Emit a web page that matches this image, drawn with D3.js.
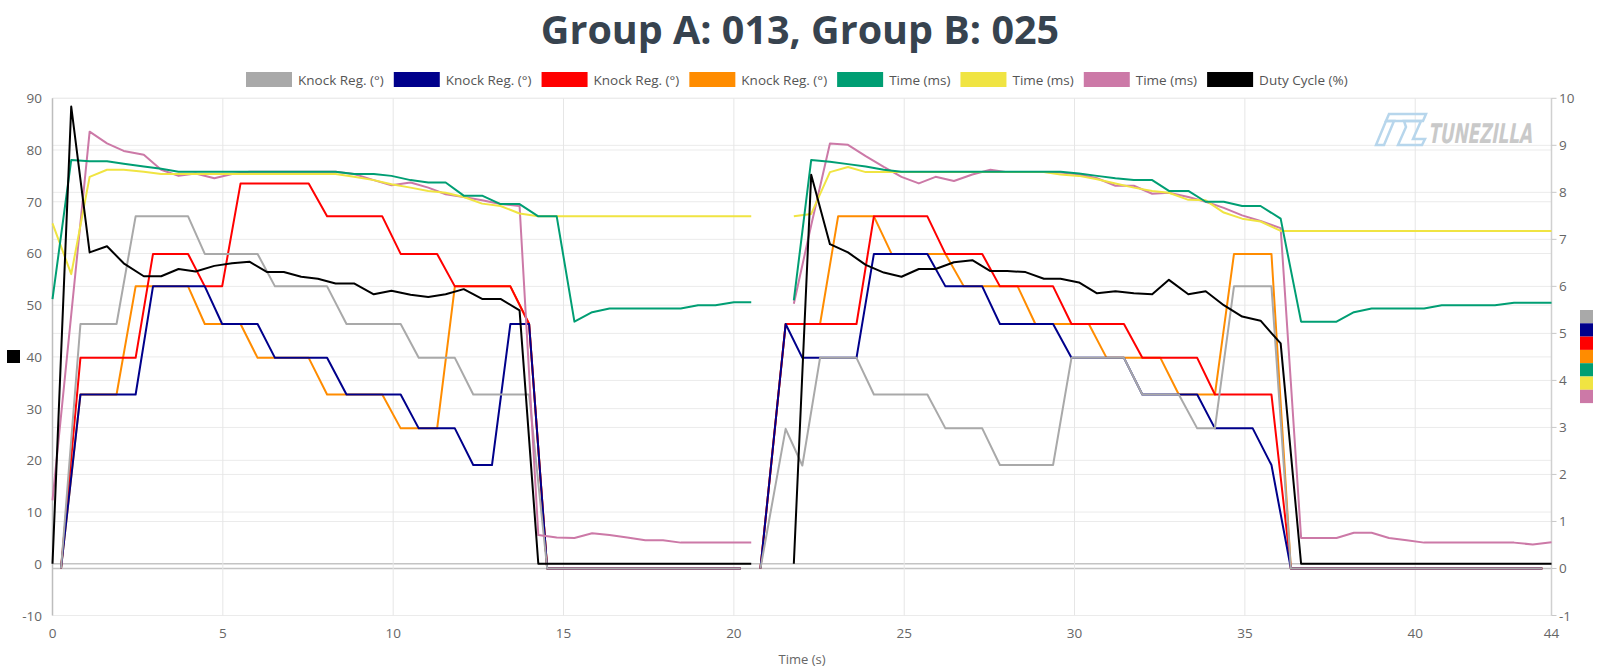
<!DOCTYPE html>
<html>
<head>
<meta charset="utf-8">
<script src="https://cdn.jsdelivr.net/npm/d3@7.9.0/dist/d3.min.js"></script>
<style>
  body { margin: 0; background: #fff; }
  svg { display: block; font-family: "Open Sans", sans-serif; }
</style>
</head>
<body>
<svg id="chart" width="1600" height="667"></svg>
<script>
// sample times (s): log A, gap row, log B
const tMain = [
  0, 0.55, 1.09, 1.60, 2.09, 2.68, 3.19, 3.70, 4.20, 4.75, 5.27, 5.78, 6.30, 6.79, 7.30, 7.79, 8.31, 8.85, 9.43, 9.95,
  10.51, 11.03, 11.54, 12.07, 12.61, 13.15, 13.71, 14.26, 14.80, 15.32, 15.84, 16.35, 16.87, 17.40, 17.92, 18.44, 18.95, 19.46, 20.00, 20.51,
  21.10,
  21.76, 22.27, 22.82, 23.35, 23.87, 24.40, 24.92, 25.43, 25.92, 26.46, 27.00, 27.53, 28.02, 28.56, 29.10, 29.59, 30.13, 30.66, 31.20, 31.74,
  32.28, 32.77, 33.34, 33.85, 34.38, 34.92, 35.46, 36.05, 36.65, 37.17, 37.69, 38.20, 38.72, 39.23, 39.75, 40.26, 40.78, 41.30, 41.82, 42.34,
  42.90, 43.45, 44.00
];
const tKnock = [
  0.25, 0.82, 1.35, 1.88, 2.44, 2.95, 3.46, 3.98, 4.47, 4.98, 5.52, 6.02, 6.53, 7.04, 7.52, 8.06, 8.63, 9.16, 9.68, 10.22,
  10.75, 11.29, 11.81, 12.35, 12.90, 13.44, 13.99, 14.52, 15.04, 15.56, 16.07, 16.59, 17.10, 17.62, 18.14, 18.65, 19.17, 19.68, 20.20,
  20.50,
  20.78, 21.52, 22.01, 22.53, 23.06, 23.60, 24.11, 24.63, 25.15, 25.68, 26.21, 26.75, 27.29, 27.81, 28.33, 28.85, 29.37, 29.91, 30.42, 30.94,
  31.45, 31.99, 32.52, 33.06, 33.60, 34.12, 34.68, 35.23, 35.78, 36.35, 36.88, 37.40, 37.93, 38.46, 38.98, 39.51, 40.04, 40.57, 41.09, 41.62,
  42.15, 42.68, 43.20, 43.73
];

// knock regulation (deg), right axis
const knockGray = [
  0, 5.20, 5.20, 5.20, 7.49, 7.49, 7.49, 7.49, 6.69, 6.69, 6.69, 6.69, 6.00, 6.00, 6.00, 6.00, 5.20, 5.20, 5.20, 5.20,
  4.48, 4.48, 4.48, 3.70, 3.70, 3.70, 3.70, 0, 0, 0, 0, 0, 0, 0, 0, 0, 0, 0, 0,
  null,
  0, 2.97, 2.19, 4.48, 4.48, 4.48, 3.70, 3.70, 3.70, 3.70, 2.98, 2.98, 2.98, 2.20, 2.20, 2.20, 2.20, 4.48, 4.48, 4.48,
  4.48, 3.70, 3.70, 3.70, 2.98, 2.98, 6.00, 6.00, 6.00, 0, 0, 0, 0, 0, 0, 0, 0, 0, 0, 0,
  0, 0, 0, 0
];
const knockBlue = [
  0, 3.70, 3.70, 3.70, 3.70, 6.00, 6.00, 6.00, 6.00, 5.20, 5.20, 5.20, 4.48, 4.48, 4.48, 4.48, 3.70, 3.70, 3.70, 3.70,
  2.98, 2.98, 2.98, 2.20, 2.20, 5.20, 5.20, 0, 0, 0, 0, 0, 0, 0, 0, 0, 0, 0, 0,
  null,
  0, 5.20, 4.48, 4.48, 4.48, 4.48, 6.69, 6.69, 6.69, 6.69, 6.00, 6.00, 6.00, 5.20, 5.20, 5.20, 5.20, 4.48, 4.48, 4.48,
  4.48, 3.70, 3.70, 3.70, 3.70, 2.98, 2.98, 2.98, 2.20, 0, 0, 0, 0, 0, 0, 0, 0, 0, 0, 0,
  0, 0, 0, 0
];
const knockRed = [
  0, 4.48, 4.48, 4.48, 4.48, 6.69, 6.69, 6.69, 6.00, 6.00, 8.19, 8.19, 8.19, 8.19, 8.19, 7.49, 7.49, 7.49, 7.49, 6.69,
  6.69, 6.69, 6.00, 6.00, 6.00, 6.00, 5.20, 0, 0, 0, 0, 0, 0, 0, 0, 0, 0, 0, 0,
  null,
  0, 5.20, 5.20, 5.20, 5.20, 5.20, 7.49, 7.49, 7.49, 7.49, 6.69, 6.69, 6.69, 6.00, 6.00, 6.00, 6.00, 5.20, 5.20, 5.20,
  5.20, 4.48, 4.48, 4.48, 4.48, 3.70, 3.70, 3.70, 3.70, 0, 0, 0, 0, 0, 0, 0, 0, 0, 0, 0,
  0, 0, 0, 0
];
const knockOrange = [
  0, 3.70, 3.70, 3.70, 6.00, 6.00, 6.00, 6.00, 5.20, 5.20, 5.20, 4.48, 4.48, 4.48, 4.48, 3.70, 3.70, 3.70, 3.70, 2.98,
  2.98, 2.98, 6.00, 6.00, 6.00, 6.00, 5.20, 0, 0, 0, 0, 0, 0, 0, 0, 0, 0, 0, 0,
  null,
  0, 5.20, 5.20, 5.20, 7.49, 7.49, 7.49, 6.69, 6.69, 6.69, 6.69, 6.00, 6.00, 6.00, 6.00, 5.20, 5.20, 5.20, 5.20, 4.48,
  4.48, 4.48, 4.48, 3.70, 3.70, 3.70, 6.69, 6.69, 6.69, 0, 0, 0, 0, 0, 0, 0, 0, 0, 0, 0,
  0, 0, 0, 0
];

// injector times (ms), right axis
const timeGreen = [
  5.73, 8.69, 8.66, 8.66, 8.61, 8.55, 8.50, 8.44, 8.44, 8.44, 8.44, 8.44, 8.44, 8.44, 8.44, 8.44, 8.44, 8.39, 8.39, 8.35,
  8.26, 8.21, 8.21, 7.93, 7.93, 7.75, 7.75, 7.49, 7.49, 5.25, 5.45, 5.53, 5.53, 5.53, 5.53, 5.53, 5.60, 5.60, 5.66, 5.66,
  null,
  5.70, 8.69, 8.65, 8.60, 8.55, 8.48, 8.44, 8.44, 8.44, 8.44, 8.44, 8.44, 8.44, 8.44, 8.44, 8.44, 8.40, 8.35, 8.30, 8.26,
  8.26, 8.03, 8.03, 7.80, 7.80, 7.71, 7.71, 7.44, 5.25, 5.25, 5.25, 5.45, 5.53, 5.53, 5.53, 5.53, 5.60, 5.60, 5.60, 5.60,
  5.65, 5.65, 5.65
];
const timeYellow = [
  7.34, 6.26, 8.33, 8.48, 8.48, 8.44, 8.39, 8.39, 8.39, 8.39, 8.39, 8.39, 8.39, 8.39, 8.39, 8.39, 8.39, 8.33, 8.26, 8.17,
  8.10, 8.03, 7.99, 7.90, 7.76, 7.71, 7.55, 7.49, 7.49, 7.49, 7.49, 7.49, 7.49, 7.49, 7.49, 7.49, 7.49, 7.49, 7.49, 7.49,
  null,
  7.49, 7.54, 8.43, 8.54, 8.43, 8.43, 8.43, 8.43, 8.43, 8.43, 8.43, 8.43, 8.43, 8.43, 8.43, 8.38, 8.35, 8.28, 8.19, 8.10,
  8.03, 7.99, 7.84, 7.83, 7.57, 7.44, 7.38, 7.18, 7.18, 7.18, 7.18, 7.18, 7.18, 7.18, 7.18, 7.18, 7.18, 7.18, 7.18, 7.18,
  7.18, 7.18, 7.18
];
const timePink = [
  1.45, 5.40, 9.29, 9.04, 8.88, 8.80, 8.48, 8.35, 8.40, 8.30, 8.39, 8.44, 8.44, 8.44, 8.44, 8.44, 8.44, 8.39, 8.26, 8.15,
  8.21, 8.10, 7.96, 7.90, 7.83, 7.75, 7.71, 0.71, 0.66, 0.65, 0.75, 0.71, 0.66, 0.60, 0.60, 0.55, 0.55, 0.55, 0.55, 0.55,
  null,
  5.63, 7.30, 9.04, 9.01, 8.77, 8.54, 8.33, 8.19, 8.33, 8.24, 8.38, 8.48, 8.43, 8.43, 8.43, 8.42, 8.38, 8.30, 8.14, 8.14,
  7.97, 7.99, 7.90, 7.80, 7.67, 7.51, 7.39, 7.24, 0.65, 0.65, 0.65, 0.76, 0.76, 0.65, 0.60, 0.55, 0.55, 0.55, 0.55, 0.55,
  0.55, 0.51, 0.56
];

// duty cycle (%), left axis
const dutyCycle = [
  0, 88.4, 60.2, 61.4, 58.1, 55.6, 55.6, 57.0, 56.5, 57.6, 58.1, 58.4, 56.4, 56.4, 55.5, 55.1, 54.2, 54.2, 52.1, 52.8,
  52.0, 51.6, 52.1, 53.1, 51.2, 51.2, 49.0, 0, 0, 0, 0, 0, 0, 0, 0, 0, 0, 0, 0, 0,
  null,
  0, 75.2, 61.8, 60.2, 57.8, 56.3, 55.5, 57.0, 57.0, 58.3, 58.7, 56.6, 56.6, 56.4, 55.1, 55.1, 54.4, 52.3, 52.7, 52.3,
  52.1, 54.9, 52.1, 52.7, 50.0, 47.8, 47.0, 42.6, 0, 0, 0, 0, 0, 0, 0, 0, 0, 0, 0, 0,
  0, 0, 0
];

const leftTicks = [-10, 0, 10, 20, 30, 40, 50, 60, 70, 80, 90];
const rightTicks = [-1, 0, 1, 2, 3, 4, 5, 6, 7, 8, 9, 10];
const xTicks = [0, 5, 10, 15, 20, 25, 30, 35, 40, 44];

// legend order; z = drawing order (higher on top)
const series = [
  { name: 'Knock Reg. (°)', color: '#a9a9a9', axis: 'R', t: tKnock, v: knockGray, z: 3 },
  { name: 'Knock Reg. (°)', color: '#00008b', axis: 'R', t: tKnock, v: knockBlue, z: 2 },
  { name: 'Knock Reg. (°)', color: '#ff0000', axis: 'R', t: tKnock, v: knockRed, z: 1 },
  { name: 'Knock Reg. (°)', color: '#ff8c00', axis: 'R', t: tKnock, v: knockOrange, z: 0 },
  { name: 'Time (ms)', color: '#009e73', axis: 'R', t: tMain, v: timeGreen, z: 6 },
  { name: 'Time (ms)', color: '#f0e442', axis: 'R', t: tMain, v: timeYellow, z: 5 },
  { name: 'Time (ms)', color: '#cc79a7', axis: 'R', t: tMain, v: timePink, z: 4 },
  { name: 'Duty Cycle (%)', color: '#000000', axis: 'L', t: tMain, v: dutyCycle, z: 7 }
];

const svg = d3.select('#chart');
const plotL = 52.5, plotR = 1551.5, plotT = 98.3, plotB = 615.5;

const x = d3.scaleLinear().domain([0, 44]).range([plotL, plotR]);
const yL = d3.scaleLinear().domain([-10, 90]).range([plotB, plotT]);
const yR = d3.scaleLinear().domain([-1, 10]).range([plotB, plotT]);

// title
svg.append('text')
  .attr('x', 800).attr('y', 44)
  .attr('text-anchor', 'middle')
  .attr('font-size', 39.5).attr('font-weight', 700)
  .attr('fill', '#37434f')
  .text('Group A: 013, Group B: 025');

// grid
const grid = svg.append('g');
grid.selectAll('.gl').data(leftTicks).join('line')
  .attr('x1', plotL).attr('x2', plotR)
  .attr('y1', d => yL(d)).attr('y2', d => yL(d))
  .attr('stroke', d => d === 0 ? '#c4c4c4' : '#ebebeb')
  .attr('stroke-width', d => d === 0 ? 1.5 : 1);
grid.selectAll('.gr').data(rightTicks).join('line')
  .attr('x1', plotL).attr('x2', plotR)
  .attr('y1', d => yR(d)).attr('y2', d => yR(d))
  .attr('stroke', d => d === 0 ? '#c4c4c4' : '#ebebeb')
  .attr('stroke-width', d => d === 0 ? 1.5 : 1);
grid.selectAll('.gx').data(xTicks.filter(d => d > 0 && d < 44)).join('line')
  .attr('x1', d => x(d)).attr('x2', d => x(d))
  .attr('y1', plotT).attr('y2', plotB)
  .attr('stroke', '#e6e6e6');
grid.append('line').attr('x1', plotL).attr('x2', plotL).attr('y1', plotT).attr('y2', plotB)
  .attr('stroke', '#bdbdbd').attr('stroke-width', 1.5);
grid.append('line').attr('x1', plotR).attr('x2', plotR).attr('y1', plotT).attr('y2', plotB)
  .attr('stroke', '#d0d0d0').attr('stroke-width', 1.5);
grid.selectAll('.tk').data(rightTicks).join('line')
  .attr('x1', plotR).attr('x2', plotR + 5)
  .attr('y1', d => yR(d)).attr('y2', d => yR(d))
  .attr('stroke', '#c8c8c8');

// watermark
const wm = svg.append('g').attr('fill', 'none').attr('stroke', '#b7d6ec').attr('stroke-width', 2.5);
wm.append('path').attr('d', 'M1389,114 L1426,114 L1423,121 L1386,121 Z');
wm.append('path').attr('d', 'M1386,121 L1394,121 L1384,145 L1376,145 Z');
wm.append('path').attr('d', 'M1404,121 L1421,121 L1413,139 L1425,139 L1422,145 L1398,145 L1406,127 Z');
const wmText = svg.append('text')
  .attr('font-family', '"DejaVu Sans Condensed", "Liberation Sans", sans-serif')
  .attr('font-size', 27).attr('font-weight', 700)
  .attr('fill', '#c9c9c9')
  .text('TUNEZILLA');
const wmScale = 104 / wmText.node().getComputedTextLength();
wmText.attr('transform', `translate(1428,143) scale(${wmScale},1) skewX(-14)`);

// lines
const plot = svg.append('g');
series.slice().sort((a, b) => a.z - b.z).forEach(s => {
  const yScale = s.axis === 'L' ? yL : yR;
  const pts = s.t.map((t, i) => ({ t: t, v: s.v[i] }));
  const line = d3.line()
    .defined(d => d.v !== null)
    .x(d => x(d.t))
    .y(d => yScale(d.v));
  plot.append('path')
    .datum(pts)
    .attr('d', line)
    .attr('fill', 'none')
    .attr('stroke', s.color)
    .attr('stroke-width', 2)
    .attr('stroke-linejoin', 'round');
});

// axis labels
const lab = svg.append('g').attr('font-size', 13.5).attr('fill', '#666');
lab.selectAll('.yl').data(leftTicks).join('text')
  .attr('x', 42).attr('y', d => yL(d) + 5)
  .attr('text-anchor', 'end')
  .text(d => d);
lab.selectAll('.yr').data(rightTicks).join('text')
  .attr('x', 1559).attr('y', d => yR(d) + 5)
  .text(d => d);
lab.selectAll('.xl').data(xTicks).join('text')
  .attr('x', d => x(d)).attr('y', 638)
  .attr('text-anchor', 'middle')
  .text(d => d);
lab.append('text')
  .attr('x', 802).attr('y', 664)
  .attr('text-anchor', 'middle')
  .attr('font-size', 13)
  .text('Time (s)');

// axis colour markers
svg.append('rect').attr('x', 7).attr('y', 350).attr('width', 13).attr('height', 13).attr('fill', '#000');
svg.selectAll('.mk').data(series.filter(s => s.axis === 'R')).join('rect')
  .attr('x', 1580).attr('y', (d, i) => 310 + i * 13.3)
  .attr('width', 13).attr('height', 13.3)
  .attr('fill', d => d.color);

// legend
const legend = svg.append('g').attr('font-size', 13.5).attr('fill', '#555');
let lx = 246;
series.forEach(s => {
  legend.append('rect')
    .attr('x', lx).attr('y', 72).attr('width', 46).attr('height', 15)
    .attr('fill', s.color);
  const txt = legend.append('text')
    .attr('x', lx + 52).attr('y', 84.5)
    .text(s.name);
  lx += 52 + txt.node().getComputedTextLength() + 10;
});
</script>
</body>
</html>
